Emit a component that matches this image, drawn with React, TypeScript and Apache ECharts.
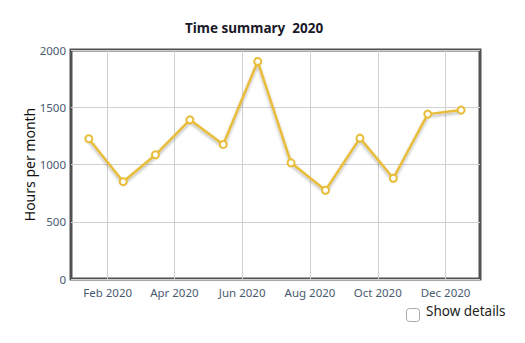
import React, { useEffect, useRef } from "react";
import * as echarts from "echarts";

const dates = [
  "2020-01-15", "2020-02-15", "2020-03-15", "2020-04-15", "2020-05-15", "2020-06-15",
  "2020-07-15", "2020-08-15", "2020-09-15", "2020-10-15", "2020-11-15", "2020-12-15",
];
const hours = [1225, 850, 1085, 1390, 1175, 1900, 1015, 775, 1230, 880, 1440, 1475];
const tickDates = ["2020-02-01", "2020-04-01", "2020-06-01", "2020-08-01", "2020-10-01", "2020-12-01"];
const monthNames = ["Jan", "Feb", "Mar", "Apr", "May", "Jun", "Jul", "Aug", "Sep", "Oct", "Nov", "Dec"];
const titleText = "Time summary  2020";
const yAxisName = "Hours per month";
const checkboxLabel = "Show details";

const ts = (s: string) => {
  const [y, m, d] = s.split("-").map(Number);
  return Date.UTC(y, m - 1, d);
};

export default function App() {
  const ref = useRef<HTMLDivElement>(null);
  useEffect(() => {
    document.body.style.margin = "0";
    const chart = echarts.init(ref.current!, null, { renderer: "svg" });
    const font = "'Noto Sans', sans-serif";
    const ticks = tickDates.map(ts);
    chart.setOption({
      animation: false,
      textStyle: { fontFamily: font },
      title: {
        text: titleText,
        left: 180,
        top: 16,
        textStyle: { fontSize: 13.5, fontWeight: "bold", color: "#1a1a2a", fontFamily: font },
      },
      grid: {
        left: 71,
        right: 45,
        top: 50,
        bottom: 64,
        show: true,
        borderColor: "#505050",
        borderWidth: 3,
        backgroundColor: "transparent",
      },
      xAxis: {
        type: "value",
        min: ts("2019-12-30"),
        max: ts("2021-01-01"),
        axisLine: { show: false },
        axisTick: { show: false, customValues: ticks },
        splitLine: { show: true, lineStyle: { color: "#d0d0d0", width: 1 } },
        axisLabel: {
          customValues: ticks,
          color: "#4a5a70",
          fontSize: 11.5,
          margin: 7,
          formatter: (v: number) => {
            const d = new Date(v);
            return monthNames[d.getUTCMonth()] + " " + d.getUTCFullYear();
          },
        },
      },
      yAxis: {
        type: "value",
        min: 0,
        max: 2000,
        interval: 500,
        name: yAxisName,
        nameLocation: "middle",
        nameGap: 35,
        nameMoveOverlap: false,
        nameTextStyle: { fontSize: 14, color: "#111" },
        axisLine: { show: false },
        axisTick: { show: false },
        splitLine: { lineStyle: { color: "#d0d0d0", width: 1 } },
        axisLabel: { color: "#4a5a70", fontSize: 11.5, margin: 5, formatter: (v: number) => String(v) },
      },
      series: [
        {
          type: "line",
          data: dates.map((d, i) => [ts(d), hours[i]]),
          symbol: "circle",
          symbolSize: 7,
          itemStyle: { color: "#fff", borderColor: "#e8bd3a", borderWidth: 2 },
          lineStyle: {
            color: "#e8bd3a",
            width: 2.5,
            shadowColor: "rgba(0,0,0,0.3)",
            shadowBlur: 3,
            shadowOffsetY: 2,
          },
        },
      ],
      graphic: [
        {
          type: "rect",
          left: 406,
          top: 308,
          shape: { width: 13, height: 13, r: 3 },
          style: { fill: "#fff", stroke: "#a8a8a8", lineWidth: 1 },
        },
        {
          type: "text",
          left: 426,
          top: 304,
          style: { text: checkboxLabel, fontSize: 13.5, fill: "#222", fontFamily: font },
        },
      ],
    });
    return () => chart.dispose();
  }, []);
  return <div ref={ref} style={{ width: 525, height: 343 }} />;
}
